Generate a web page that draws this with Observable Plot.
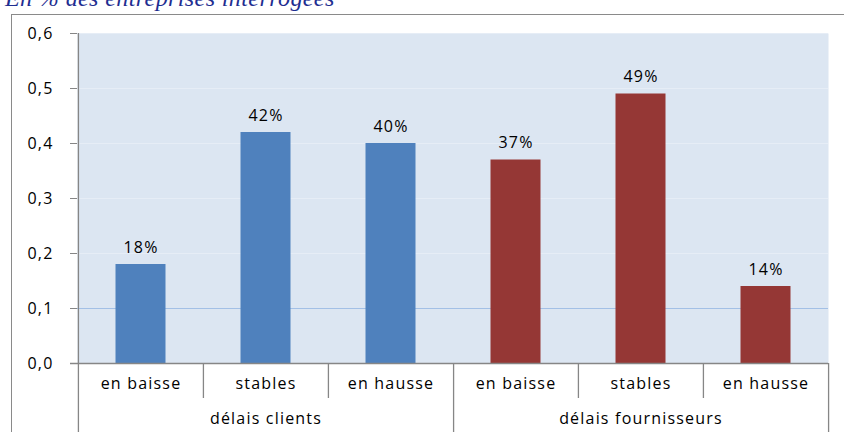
<!DOCTYPE html>
<html>
<head>
<meta charset="utf-8">
<script src="https://cdn.jsdelivr.net/npm/d3@7"></script>
<script src="https://cdn.jsdelivr.net/npm/@observablehq/plot@0.6"></script>
<style>
  html, body { margin: 0; padding: 0; background: #fff; }
  #wrap { position: relative; width: 844px; height: 432px; overflow: hidden; background: #fff; }
  #title { position: absolute; left: 5px; top: -14px; font-family: "Liberation Serif", serif; font-style: italic;
           font-size: 24px; line-height: 24px; color: #1F2E91; white-space: nowrap; letter-spacing: 0.4px; }
  #box { position: absolute; left: 11px; top: 14px; width: 900px; height: 500px; border: 1.5px solid #8a8a8a; box-sizing: border-box; }
  #chart { position: absolute; left: 0; top: 0; }
  #chart svg { overflow: visible; }
  g[aria-label="y-axis tick"], g[aria-label="y-axis"] line, g[aria-label="y-axis"] path { stroke: #868686; }
</style>
</head>
<body>
<div id="wrap">
  <div id="box"></div>
  <div id="title">En % des entreprises interrogées</div>
  <div id="chart"></div>
</div>
<script>
const groups = ["délais clients", "délais fournisseurs"];
const categories = ["en baisse", "stables", "en hausse"];
const valuesClients = [0.18, 0.42, 0.40];
const valuesFournisseurs = [0.37, 0.49, 0.14];
const valueLabelsClients = ["18%", "42%", "40%"];
const valueLabelsFournisseurs = ["37%", "49%", "14%"];
const yTicks = [0, 0.1, 0.2, 0.3, 0.4, 0.5, 0.6];
const groupColors = ["#4F81BD", "#953735"];

const seriesValues = [valuesClients, valuesFournisseurs];
const seriesLabels = [valueLabelsClients, valueLabelsFournisseurs];
const data = [];
groups.forEach((g, gi) => categories.forEach((c, ci) => {
  data.push({key: g + "|" + c, group: g, category: c, value: seriesValues[gi][ci], label: seriesLabels[gi][ci], first: ci === 0, last: ci === categories.length - 1});
}));
const keys = data.map(d => d.key);

const W = 844, H = 432, mL = 77, mR = 16, mT = 33, mB = 69;
const bw = (W - mL - mR) / keys.length;
const frameH = H - mT - mB;
const axisGray = "#868686";
const font = "'Open Sans', sans-serif";

const plot = Plot.plot({
  width: W, height: H,
  marginLeft: mL, marginRight: mR, marginTop: mT, marginBottom: mB,
  style: {background: "transparent", fontFamily: font, fontSize: "16px", color: "#000", overflow: "visible", letterSpacing: "1.2px"},
  x: {domain: keys, padding: 0, axis: null},
  y: {domain: [0, 0.6], ticks: yTicks, tickFormat: d => d.toFixed(1).replace(".", ","), tickSize: 7, tickPadding: 17, label: null},
  color: {domain: groups, range: groupColors},
  marks: [
    Plot.frame({fill: "#DCE6F2", stroke: null}),
    Plot.ruleY(yTicks.filter(v => v >= 0.2), {stroke: "#E6EDF6", strokeWidth: 1}),
    Plot.ruleY(yTicks.filter(v => v === 0.1), {stroke: "#A3C0E6", strokeWidth: 1.2}),
    Plot.barY(data, {x: "key", y: "value", fill: "group", insetLeft: 37.5, insetRight: 37.5}),
    Plot.text(data, {x: "key", y: "value", text: "label", dy: -17, fontSize: 16, fill: "#000"}),
    // x axis baseline
    Plot.ruleY([0], {stroke: axisGray, strokeWidth: 1.3, insetLeft: -7}),
    // y axis line extending through category area
    Plot.ruleX([keys[0]], {dx: -bw / 2, stroke: axisGray, strokeWidth: 1.3, insetBottom: -mB - 5}),
    // inner category dividers
    Plot.ruleX(data.filter(d => !d.first), {x: "key", dx: -bw / 2, stroke: axisGray, strokeWidth: 1.3, insetTop: frameH, insetBottom: -35}),
    // group dividers
    Plot.ruleX(data.filter(d => d.last), {x: "key", dx: bw / 2, stroke: axisGray, strokeWidth: 1.3, insetTop: frameH, insetBottom: -mB - 5}),
    // category labels
    Plot.text(data, {x: "key", text: "category", frameAnchor: "bottom", dy: 25, fontSize: 16, fill: "#000"}),
    // group labels
    Plot.text(data.filter(d => d.category === categories[1]), {x: "key", text: "group", frameAnchor: "bottom", dy: 60, fontSize: 16, fill: "#000"})
  ]
});
document.getElementById("chart").appendChild(plot);
</script>
</body>
</html>
